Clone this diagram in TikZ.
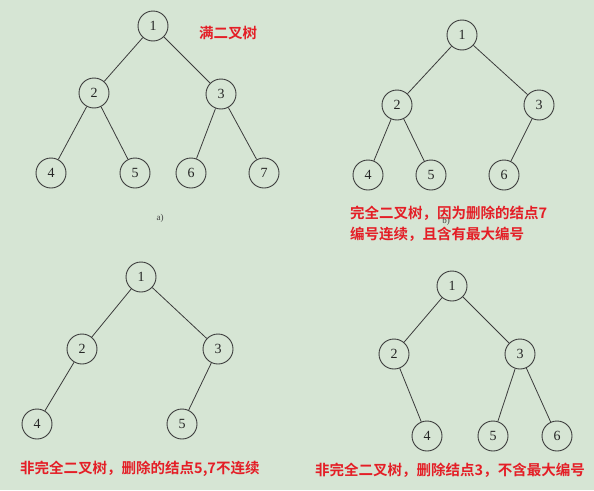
\documentclass[tikz,border=0pt]{standalone}
\usepackage{fontspec}
\setmainfont{Liberation Serif}
\newfontfamily\cjk{Noto Sans CJK SC Bold}
\definecolor{bgc}{RGB}{214,229,212}
\definecolor{redt}{RGB}{228,30,38}
\definecolor{linec}{RGB}{60,60,60}
\begin{document}
\begin{tikzpicture}[x=1pt,y=-1pt,
  tn/.style={circle,draw=linec,line width=0.9pt,minimum size=30pt,inner sep=0pt,font=\fontsize{14}{14}\selectfont,text=black!85},
  ed/.style={draw=linec,line width=0.8pt},
  lab/.style={text=redt,font=\cjk\fontsize{14.5}{21}\selectfont,inner sep=0pt,align=left},
  sub/.style={font=\fontsize{9}{9}\selectfont,text=black!75,inner sep=0pt}]
\fill[bgc] (0,0) rectangle (594,490);
\useasboundingbox (0,0) rectangle (594,490);
% tree a
\node[tn] (a1) at (153,26) {1};
\node[tn] (a2) at (94,93) {2};
\node[tn] (a3) at (221,94) {3};
\node[tn] (a4) at (51,173) {4};
\node[tn] (a5) at (135,173) {5};
\node[tn] (a6) at (191,173) {6};
\node[tn] (a7) at (264,173) {7};
\draw[ed] (a1)--(a2); \draw[ed] (a1)--(a3);
\draw[ed] (a2)--(a4); \draw[ed] (a2)--(a5);
\draw[ed] (a3)--(a6); \draw[ed] (a3)--(a7);
\node[lab,anchor=west] (ta) at (199,33) {满二叉树};
\node[sub] (sa) at (160,218) {a)};
% tree b
\node[tn] (b1) at (462,35) {1};
\node[tn] (b2) at (397,105) {2};
\node[tn] (b3) at (539,105) {3};
\node[tn] (b4) at (368,175) {4};
\node[tn] (b5) at (431,175) {5};
\node[tn] (b6) at (504,175) {6};
\draw[ed] (b1)--(b2); \draw[ed] (b1)--(b3);
\draw[ed] (b2)--(b4); \draw[ed] (b2)--(b5);
\draw[ed] (b3)--(b6);
\node[sub] (sb) at (446,221) {b)};
\node[lab,anchor=north west] (tb) at (350,206) {完全二叉树，因为删除的结点7\\编号连续，且含有最大编号};
% tree c
\node[tn] (c1) at (141,277) {1};
\node[tn] (c2) at (82,349) {2};
\node[tn] (c3) at (218,349) {3};
\node[tn] (c4) at (37,424) {4};
\node[tn] (c5) at (182,424) {5};
\draw[ed] (c1)--(c2); \draw[ed] (c1)--(c3);
\draw[ed] (c2)--(c4); \draw[ed] (c3)--(c5);
\node[lab,anchor=west] (tc) at (20,469) {非完全二叉树，删除的结点5,7不连续};
% tree d
\node[tn] (d1) at (452,286) {1};
\node[tn] (d2) at (394,354) {2};
\node[tn] (d3) at (520,354) {3};
\node[tn] (d4) at (427,436) {4};
\node[tn] (d5) at (493,436) {5};
\node[tn] (d6) at (557,436) {6};
\draw[ed] (d1)--(d2); \draw[ed] (d1)--(d3);
\draw[ed] (d2)--(d4); \draw[ed] (d3)--(d5); \draw[ed] (d3)--(d6);
\node[lab,anchor=west] (td) at (315,470) {非完全二叉树，删除结点3，不含最大编号};
\end{tikzpicture}
\end{document}
